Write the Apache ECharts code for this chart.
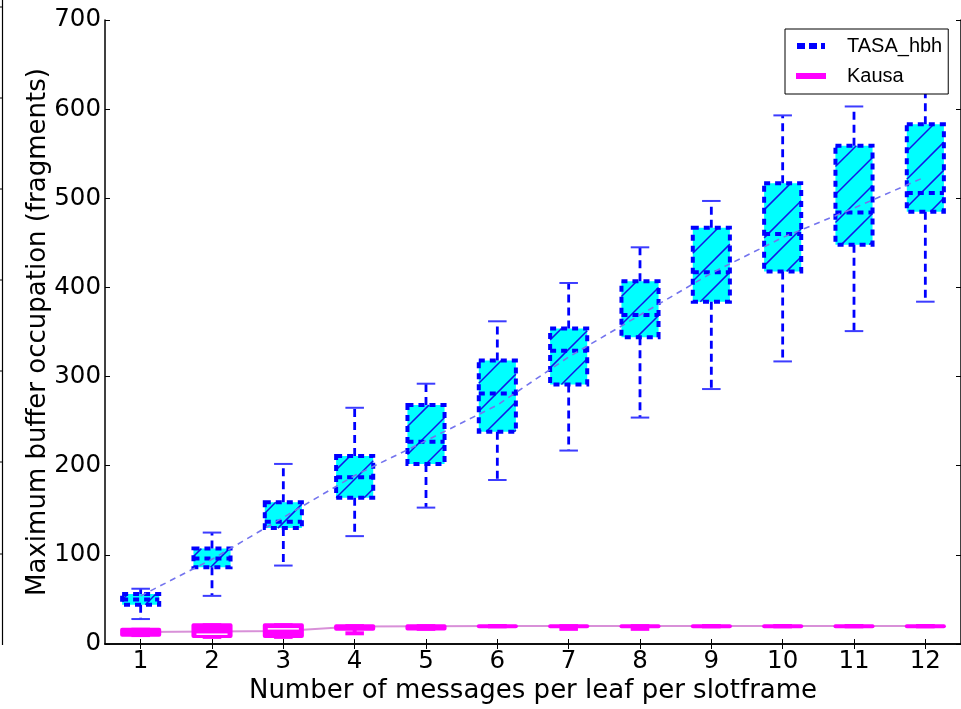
<!DOCTYPE html>
<html><head><meta charset="utf-8">
<script src="https://cdn.jsdelivr.net/npm/echarts@6/dist/echarts.min.js"></script>
<style>html,body{margin:0;padding:0;background:#fff}#c{width:961px;height:709px}</style>
</head><body><div id="c"></div>
<script>
const categories = ['1','2','3','4','5','6','7','8','9','10','11','12'];
const yTickValues = [0, 100, 200, 300, 400, 500, 600, 700];

// TASA_hbh box statistics
const tasaMin    = [28, 54, 88, 121, 153, 184, 217, 254, 286, 317, 351, 384];
const tasaQ1     = [44, 86, 130, 164, 202, 238, 291, 344, 384, 418, 448, 485];
const tasaMedian = [50, 96, 137, 187, 227, 281, 329, 369, 417, 460, 484, 506];
const tasaQ3     = [56, 107, 159, 211, 268, 318, 354, 407, 467, 517, 559, 583];
const tasaMax    = [62, 125, 202, 265, 292, 362, 405, 445, 497, 593, 603, 625];
const tasaMean   = [54, 95, 142, 189, 228, 268, 322, 369, 416, 456, 489, 524];

// Kausa box statistics
const kausaMin    = [10, 8, 8, 12, 17, 20, 17, 17, 20, 20, 20, 20];
const kausaQ1     = [10.5, 9, 9, 17, 17.5, 20, 20, 20, 20, 20, 20, 20];
const kausaMedian = [15.5, 11, 17, 18, 19, 20, 20, 20, 20, 20, 20, 20];
const kausaQ3     = [16, 21, 21, 20, 20, 20, 20, 20, 20, 20, 20, 20];
const kausaMax    = [16, 21, 21, 20, 20, 20, 20, 20, 20, 20, 20, 20];
const kausaMean   = [13.5, 14, 14.5, 19.5, 20, 20.3, 20.3, 20.3, 20.3, 20.3, 20.3, 20.3];

const tasaData = categories.map((c, i) => [i, tasaMin[i], tasaQ1[i], tasaMedian[i], tasaQ3[i], tasaMax[i]]);
const kausaData = categories.map((c, i) => [i, kausaMin[i], kausaQ1[i], kausaMedian[i], kausaQ3[i], kausaMax[i]]);

const BOX_FRAC = 0.52;

function hatchLines(x0, y0, x1, y1, step, offset, style) {
  const out = [];
  const cMin = x0 + y0, cMax = x1 + y1;
  const k = Math.ceil((cMin - offset) / step);
  for (let c = k * step + offset; c <= cMax; c += step) {
    const xa = Math.max(x0, c - y1), xb = Math.min(x1, c - y0);
    if (xb > xa + 0.5) out.push({type: 'line', shape: {x1: xa, y1: c - xa, x2: xb, y2: c - xb}, style: style});
  }
  return out;
}

function pts(api) {
  const i = api.value(0);
  return {
    pMin: api.coord([i, api.value(1)]),
    pQ1: api.coord([i, api.value(2)]),
    pMed: api.coord([i, api.value(3)]),
    pQ3: api.coord([i, api.value(4)]),
    pMax: api.coord([i, api.value(5)]),
    bw: api.size([1, 0])[0] * BOX_FRAC
  };
}

function renderTasa(params, api) {
  const p = pts(api);
  const x = p.pMed[0], bw = p.bw;
  const xl = x - bw / 2, xr = x + bw / 2;
  const yt = p.pQ3[1], yb = p.pQ1[1];
  const blue = '#0000ff';
  const children = [];
  children.push({type: 'rect', shape: {x: xl, y: yt, width: bw, height: yb - yt}, style: {fill: '#00ffff'}});
  hatchLines(xl, yt, xr, yb, 28, 22, {stroke: '#1414e6', lineWidth: 1.5}).forEach(h => children.push(h));
  const wStyle = {stroke: blue, lineWidth: 2.8, lineDash: [8, 5]};
  children.push({type: 'line', shape: {x1: x, y1: yt, x2: x, y2: p.pMax[1]}, style: wStyle});
  children.push({type: 'line', shape: {x1: x, y1: yb, x2: x, y2: p.pMin[1]}, style: wStyle});
  const cStyle = {stroke: '#3c3cff', lineWidth: 2};
  children.push({type: 'line', shape: {x1: x - bw / 4, y1: p.pMax[1], x2: x + bw / 4, y2: p.pMax[1]}, style: cStyle});
  children.push({type: 'line', shape: {x1: x - bw / 4, y1: p.pMin[1], x2: x + bw / 4, y2: p.pMin[1]}, style: cStyle});
  children.push({type: 'rect', shape: {x: xl, y: yt, width: bw, height: yb - yt}, style: {fill: null, stroke: blue, lineWidth: 4, lineDash: [6, 5]}});
  children.push({type: 'line', shape: {x1: xl, y1: p.pMed[1], x2: xr, y2: p.pMed[1]}, style: {stroke: blue, lineWidth: 4, lineDash: [6, 5]}});
  return {type: 'group', children: children};
}

function renderKausa(params, api) {
  const p = pts(api);
  const x = p.pMed[0], bw = p.bw;
  const xl = x - bw / 2, xr = x + bw / 2;
  const yt = p.pQ3[1], yb = p.pQ1[1];
  const mag = '#ff00ff';
  const children = [];
  const sStyle = {stroke: mag, lineWidth: 4};
  if (p.pMax[1] < yt - 0.5) children.push({type: 'line', shape: {x1: x, y1: yt, x2: x, y2: p.pMax[1]}, style: sStyle});
  if (p.pMin[1] > yb + 0.5) children.push({type: 'line', shape: {x1: x, y1: yb, x2: x, y2: p.pMin[1]}, style: sStyle});
  children.push({type: 'line', shape: {x1: x - bw / 4, y1: p.pMax[1], x2: x + bw / 4, y2: p.pMax[1]}, style: sStyle});
  children.push({type: 'line', shape: {x1: x - bw / 4, y1: p.pMin[1], x2: x + bw / 4, y2: p.pMin[1]}, style: sStyle});
  children.push({type: 'rect', shape: {x: xl, y: yt, width: bw, height: Math.max(yb - yt, 0.01)}, style: {fill: mag, stroke: mag, lineWidth: 4, lineJoin: 'round'}});
  const ym = p.pMed[1];
  if (ym - yt > 1.5 && yb - ym > 1.5) children.push({type: 'line', shape: {x1: xl + 3, y1: ym, x2: xr - 3, y2: ym}, style: {stroke: '#ffffff', lineWidth: 1.5}});
  return {type: 'group', children: children};
}

const FONT = 'DejaVu Sans';

// decorative edge of the neighbouring panel at the far left
const edgeTicks = [7, 98, 189, 280, 371, 462, 554];
const graphicEls = [{type: 'line', shape: {x1: 2.5, y1: 0, x2: 2.5, y2: 645}, style: {stroke: '#000', lineWidth: 1.2}}]
  .concat(edgeTicks.map(y => ({type: 'line', shape: {x1: 0, y1: y, x2: 3, y2: y}, style: {stroke: '#000', lineWidth: 1}})));

const chart = echarts.init(document.getElementById('c'), null, {renderer: 'canvas'});
chart.setOption({
  animation: false,
  backgroundColor: '#ffffff',
  grid: {left: 105, top: 20, width: 857, height: 626, containLabel: false},
  graphic: graphicEls,
  legend: {
    left: 785, top: 29, orient: 'vertical',
    data: [
      {name: 'TASA_hbh', icon: 'path://M0,0H8V6H0Z M12,0H20V6H12Z M24,0H28V6H24Z', itemStyle: {color: '#0000ff'}},
      {name: 'Kausa', icon: 'rect', itemStyle: {color: '#ff00ff'}}
    ],
    itemWidth: 30, itemHeight: 6, itemGap: 10,
    padding: [7, 6, 8, 11],
    textStyle: {fontFamily: 'Liberation Sans', fontSize: 20, color: '#000', padding: [0, 0, 0, 16]},
    backgroundColor: '#fff', borderColor: '#000', borderWidth: 1, borderRadius: 0
  },
  xAxis: [
    {type: 'category', data: categories, position: 'bottom', boundaryGap: true,
     axisLine: {show: true, lineStyle: {color: '#000', width: 1.5}},
     axisTick: {show: true, inside: true, alignWithLabel: true, length: 5, lineStyle: {color: '#000', width: 1}},
     axisLabel: {color: '#000', fontSize: 24.5, fontFamily: FONT, margin: 5},
     splitLine: {show: false},
     name: 'Number of messages per leaf per slotframe', nameLocation: 'middle', nameGap: 34,
     nameMoveOverlap: false,
     nameTextStyle: {color: '#000', fontSize: 26, fontFamily: FONT}},
    {type: 'category', data: categories, position: 'top', boundaryGap: true,
     axisLine: {show: true, lineStyle: {color: '#000', width: 1.5}},
     axisTick: {show: true, inside: true, alignWithLabel: true, length: 5, lineStyle: {color: '#000', width: 1}},
     axisLabel: {show: false}, splitLine: {show: false}}
  ],
  yAxis: [
    {type: 'value', min: 0, max: 700, interval: 100, position: 'left',
     axisLine: {show: true, lineStyle: {color: '#000', width: 1.5}},
     axisTick: {show: true, inside: true, length: 5, lineStyle: {color: '#000', width: 1}},
     axisLabel: {color: '#000', fontSize: 24.5, fontFamily: FONT, margin: 4,
                 formatter: v => (yTickValues.indexOf(v) >= 0 ? String(v) : '')},
     splitLine: {show: false},
     name: 'Maximum buffer occupation (fragments)', nameLocation: 'middle', nameGap: 54, nameRotate: 90,
     nameMoveOverlap: false,
     nameTextStyle: {color: '#000', fontSize: 26, fontFamily: FONT}},
    {type: 'value', min: 0, max: 700, interval: 100, position: 'right',
     axisLine: {show: true, lineStyle: {color: '#000', width: 1.5}},
     axisTick: {show: true, inside: true, length: 5, lineStyle: {color: '#000', width: 1}},
     axisLabel: {show: false}, splitLine: {show: false}}
  ],
  series: [
    {name: 'TASA_hbh', type: 'custom', xAxisIndex: 0, yAxisIndex: 0, data: tasaData,
     encode: {x: 0, y: [1, 2, 3, 4, 5]}, renderItem: renderTasa, color: '#0000ff', z: 2},
    {name: 'Kausa mean', type: 'line', xAxisIndex: 0, yAxisIndex: 0, data: kausaMean, symbol: 'none',
     lineStyle: {color: '#d890d8', width: 2}, z: 2, silent: true},
    {name: 'Kausa', type: 'custom', xAxisIndex: 0, yAxisIndex: 0, data: kausaData,
     encode: {x: 0, y: [1, 2, 3, 4, 5]}, renderItem: renderKausa, color: '#ff00ff', z: 3},
    {name: 'TASA_hbh mean', type: 'line', xAxisIndex: 0, yAxisIndex: 0, data: tasaMean, symbol: 'none',
     lineStyle: {color: '#7474ee', width: 1.6, type: [6, 5]}, z: 4, silent: true}
  ]
});
</script>
</body></html>
